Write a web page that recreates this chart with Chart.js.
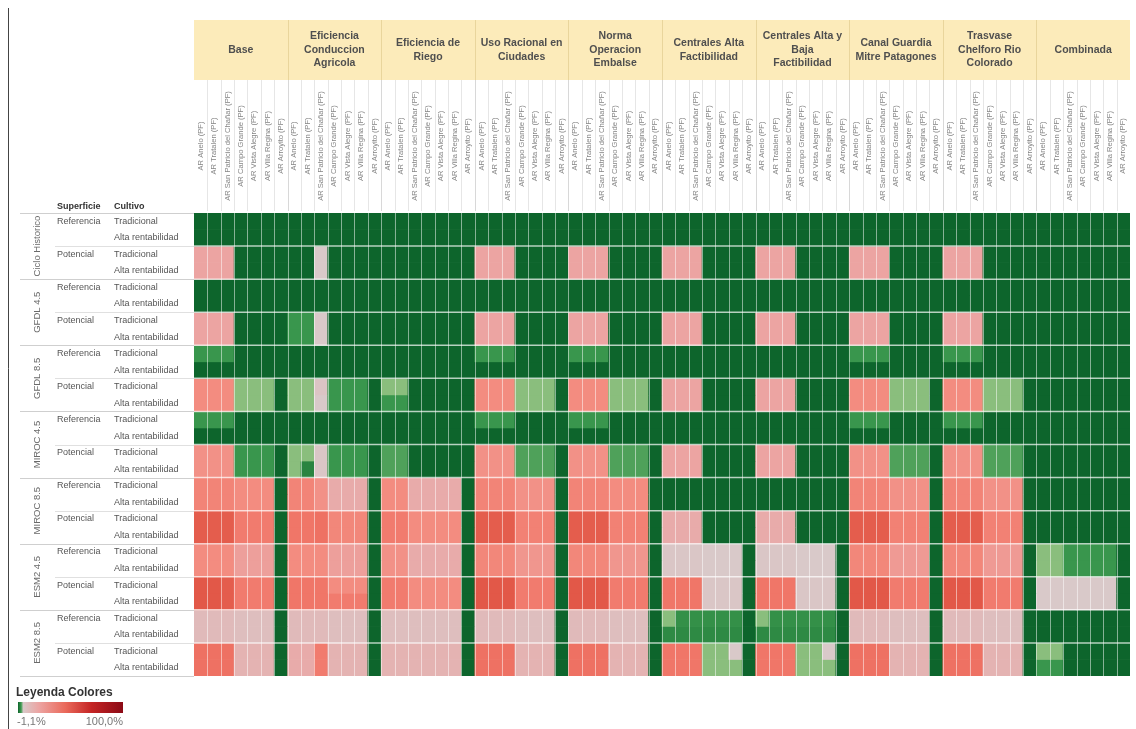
<!DOCTYPE html>
<html>
<head>
<meta charset="utf-8">
<title>Leyenda Colores</title>
<script src="https://cdn.jsdelivr.net/npm/chart.js@4.4.0/dist/chart.umd.min.js"></script>
<style>
  html, body { margin: 0; padding: 0; background: #fff; }
  canvas { display: block; }
</style>
</head>
<body>
<canvas id="heat" width="1136" height="729"></canvas>
<script>
// Column groups (scenario) and sites
const scenarios = [
  ["Base"],
  ["Eficiencia", "Conduccion", "Agricola"],
  ["Eficiencia de", "Riego"],
  ["Uso Racional en", "Ciudades"],
  ["Norma", "Operacion", "Embalse"],
  ["Centrales Alta", "Factibilidad"],
  ["Centrales Alta y", "Baja", "Factibilidad"],
  ["Canal Guardia", "Mitre Patagones"],
  ["Trasvase", "Chelforo Rio", "Colorado"],
  ["Combinada"]
];
const sites = [
  "AR Anelo (PF)", "AR Tratalen (PF)", "AR San Patricio del Chañar (PF)",
  "AR Campo Grande (PF)", "AR Vista Alegre (PF)", "AR Villa Regina (PF)", "AR Arroyito (PF)"
];

// Row groups
const climates = ["Ciclo Historico", "GFDL 4.5", "GFDL 8.5", "MIROC 4.5", "MIROC 8.5", "ESM2 4.5", "ESM2 8.5"];
const superficies = ["Referencia", "Potencial"];
const cultivos = ["Tradicional", "Alta rentabilidad"];

// Values (%), rows: Referencia/Tradicional, Referencia/Alta, Potencial/Tradicional, Potencial/Alta
const cicloHistorico = [
  [-1.1,-1.1,-1.1,-1.1,-1.1,-1.1,-1.1, -1.1,-1.1,-1.1,-1.1,-1.1,-1.1,-1.1, -1.1,-1.1,-1.1,-1.1,-1.1,-1.1,-1.1, -1.1,-1.1,-1.1,-1.1,-1.1,-1.1,-1.1, -1.1,-1.1,-1.1,-1.1,-1.1,-1.1,-1.1, -1.1,-1.1,-1.1,-1.1,-1.1,-1.1,-1.1, -1.1,-1.1,-1.1,-1.1,-1.1,-1.1,-1.1, -1.1,-1.1,-1.1,-1.1,-1.1,-1.1,-1.1, -1.1,-1.1,-1.1,-1.1,-1.1,-1.1,-1.1, -1.1,-1.1,-1.1,-1.1,-1.1,-1.1,-1.1],
  [-1.1,-1.1,-1.1,-1.1,-1.1,-1.1,-1.1, -1.1,-1.1,-1.1,-1.1,-1.1,-1.1,-1.1, -1.1,-1.1,-1.1,-1.1,-1.1,-1.1,-1.1, -1.1,-1.1,-1.1,-1.1,-1.1,-1.1,-1.1, -1.1,-1.1,-1.1,-1.1,-1.1,-1.1,-1.1, -1.1,-1.1,-1.1,-1.1,-1.1,-1.1,-1.1, -1.1,-1.1,-1.1,-1.1,-1.1,-1.1,-1.1, -1.1,-1.1,-1.1,-1.1,-1.1,-1.1,-1.1, -1.1,-1.1,-1.1,-1.1,-1.1,-1.1,-1.1, -1.1,-1.1,-1.1,-1.1,-1.1,-1.1,-1.1],
  [12,12,12,-1.1,-1.1,-1.1,-1.1, -1.1,-1.1,1,-1.1,-1.1,-1.1,-1.1, -1.1,-1.1,-1.1,-1.1,-1.1,-1.1,-1.1, 12,12,12,-1.1,-1.1,-1.1,-1.1, 12,12,12,-1.1,-1.1,-1.1,-1.1, 12,12,12,-1.1,-1.1,-1.1,-1.1, 12,12,12,-1.1,-1.1,-1.1,-1.1, 12,12,12,-1.1,-1.1,-1.1,-1.1, 12,12,12,-1.1,-1.1,-1.1,-1.1, -1.1,-1.1,-1.1,-1.1,-1.1,-1.1,-1.1],
  [12,12,12,-1.1,-1.1,-1.1,-1.1, -1.1,-1.1,1,-1.1,-1.1,-1.1,-1.1, -1.1,-1.1,-1.1,-1.1,-1.1,-1.1,-1.1, 12,12,12,-1.1,-1.1,-1.1,-1.1, 12,12,12,-1.1,-1.1,-1.1,-1.1, 12,12,12,-1.1,-1.1,-1.1,-1.1, 12,12,12,-1.1,-1.1,-1.1,-1.1, 12,12,12,-1.1,-1.1,-1.1,-1.1, 12,12,12,-1.1,-1.1,-1.1,-1.1, -1.1,-1.1,-1.1,-1.1,-1.1,-1.1,-1.1]
];
const gfdl45 = [
  [-1.1,-1.1,-1.1,-1.1,-1.1,-1.1,-1.1, -1.1,-1.1,-1.1,-1.1,-1.1,-1.1,-1.1, -1.1,-1.1,-1.1,-1.1,-1.1,-1.1,-1.1, -1.1,-1.1,-1.1,-1.1,-1.1,-1.1,-1.1, -1.1,-1.1,-1.1,-1.1,-1.1,-1.1,-1.1, -1.1,-1.1,-1.1,-1.1,-1.1,-1.1,-1.1, -1.1,-1.1,-1.1,-1.1,-1.1,-1.1,-1.1, -1.1,-1.1,-1.1,-1.1,-1.1,-1.1,-1.1, -1.1,-1.1,-1.1,-1.1,-1.1,-1.1,-1.1, -1.1,-1.1,-1.1,-1.1,-1.1,-1.1,-1.1],
  [-1.1,-1.1,-1.1,-1.1,-1.1,-1.1,-1.1, -1.1,-1.1,-1.1,-1.1,-1.1,-1.1,-1.1, -1.1,-1.1,-1.1,-1.1,-1.1,-1.1,-1.1, -1.1,-1.1,-1.1,-1.1,-1.1,-1.1,-1.1, -1.1,-1.1,-1.1,-1.1,-1.1,-1.1,-1.1, -1.1,-1.1,-1.1,-1.1,-1.1,-1.1,-1.1, -1.1,-1.1,-1.1,-1.1,-1.1,-1.1,-1.1, -1.1,-1.1,-1.1,-1.1,-1.1,-1.1,-1.1, -1.1,-1.1,-1.1,-1.1,-1.1,-1.1,-1.1, -1.1,-1.1,-1.1,-1.1,-1.1,-1.1,-1.1],
  [12,12,12,-1.1,-1.1,-1.1,-1.1, -0.7,-0.7,1,-1.1,-1.1,-1.1,-1.1, -1.1,-1.1,-1.1,-1.1,-1.1,-1.1,-1.1, 12,12,12,-1.1,-1.1,-1.1,-1.1, 12,12,12,-1.1,-1.1,-1.1,-1.1, 12,12,12,-1.1,-1.1,-1.1,-1.1, 12,12,12,-1.1,-1.1,-1.1,-1.1, 12,12,12,-1.1,-1.1,-1.1,-1.1, 12,12,12,-1.1,-1.1,-1.1,-1.1, -1.1,-1.1,-1.1,-1.1,-1.1,-1.1,-1.1],
  [12,12,12,-1.1,-1.1,-1.1,-1.1, -0.7,-0.7,1,-1.1,-1.1,-1.1,-1.1, -1.1,-1.1,-1.1,-1.1,-1.1,-1.1,-1.1, 12,12,12,-1.1,-1.1,-1.1,-1.1, 12,12,12,-1.1,-1.1,-1.1,-1.1, 12,12,12,-1.1,-1.1,-1.1,-1.1, 12,12,12,-1.1,-1.1,-1.1,-1.1, 12,12,12,-1.1,-1.1,-1.1,-1.1, 12,12,12,-1.1,-1.1,-1.1,-1.1, -1.1,-1.1,-1.1,-1.1,-1.1,-1.1,-1.1]
];
const gfdl85 = [
  [-0.7,-0.7,-0.7,-1.1,-1.1,-1.1,-1.1, -1.1,-1.1,-1.1,-1.1,-1.1,-1.1,-1.1, -1.1,-1.1,-1.1,-1.1,-1.1,-1.1,-1.1, -0.7,-0.7,-0.7,-1.1,-1.1,-1.1,-1.1, -0.7,-0.7,-0.7,-1.1,-1.1,-1.1,-1.1, -1.1,-1.1,-1.1,-1.1,-1.1,-1.1,-1.1, -1.1,-1.1,-1.1,-1.1,-1.1,-1.1,-1.1, -0.7,-0.7,-0.7,-1.1,-1.1,-1.1,-1.1, -0.7,-0.7,-0.7,-1.1,-1.1,-1.1,-1.1, -1.1,-1.1,-1.1,-1.1,-1.1,-1.1,-1.1],
  [-1.1,-1.1,-1.1,-1.1,-1.1,-1.1,-1.1, -1.1,-1.1,-1.1,-1.1,-1.1,-1.1,-1.1, -1.1,-1.1,-1.1,-1.1,-1.1,-1.1,-1.1, -1.1,-1.1,-1.1,-1.1,-1.1,-1.1,-1.1, -1.1,-1.1,-1.1,-1.1,-1.1,-1.1,-1.1, -1.1,-1.1,-1.1,-1.1,-1.1,-1.1,-1.1, -1.1,-1.1,-1.1,-1.1,-1.1,-1.1,-1.1, -1.1,-1.1,-1.1,-1.1,-1.1,-1.1,-1.1, -1.1,-1.1,-1.1,-1.1,-1.1,-1.1,-1.1, -1.1,-1.1,-1.1,-1.1,-1.1,-1.1,-1.1],
  [22,22,22,-0.35,-0.35,-0.35,-1.1, -0.35,-0.35,3,-0.7,-0.7,-0.7,-1.1, -0.35,-0.35,-1.1,-1.1,-1.1,-1.1,-1.1, 22,22,22,-0.35,-0.35,-0.35,-1.1, 22,22,22,-0.35,-0.35,-0.35,-1.1, 12,12,12,-1.1,-1.1,-1.1,-1.1, 12,12,12,-1.1,-1.1,-1.1,-1.1, 22,22,22,-0.35,-0.35,-0.35,-1.1, 22,22,22,-0.35,-0.35,-0.35,-1.1, -1.1,-1.1,-1.1,-1.1,-1.1,-1.1,-1.1],
  [22,22,22,-0.35,-0.35,-0.35,-1.1, -0.35,-0.35,1,-0.7,-0.7,-0.7,-1.1, -0.7,-0.7,-1.1,-1.1,-1.1,-1.1,-1.1, 22,22,22,-0.35,-0.35,-0.35,-1.1, 22,22,22,-0.35,-0.35,-0.35,-1.1, 12,12,12,-1.1,-1.1,-1.1,-1.1, 12,12,12,-1.1,-1.1,-1.1,-1.1, 22,22,22,-0.35,-0.35,-0.35,-1.1, 22,22,22,-0.35,-0.35,-0.35,-1.1, -1.1,-1.1,-1.1,-1.1,-1.1,-1.1,-1.1]
];
const miroc45 = [
  [-0.7,-0.7,-0.7,-1.1,-1.1,-1.1,-1.1, -1.1,-1.1,-1.1,-1.1,-1.1,-1.1,-1.1, -1.1,-1.1,-1.1,-1.1,-1.1,-1.1,-1.1, -0.7,-0.7,-0.7,-1.1,-1.1,-1.1,-1.1, -0.7,-0.7,-0.7,-1.1,-1.1,-1.1,-1.1, -1.1,-1.1,-1.1,-1.1,-1.1,-1.1,-1.1, -1.1,-1.1,-1.1,-1.1,-1.1,-1.1,-1.1, -0.7,-0.7,-0.7,-1.1,-1.1,-1.1,-1.1, -0.7,-0.7,-0.7,-1.1,-1.1,-1.1,-1.1, -1.1,-1.1,-1.1,-1.1,-1.1,-1.1,-1.1],
  [-1.1,-1.1,-1.1,-1.1,-1.1,-1.1,-1.1, -1.1,-1.1,-1.1,-1.1,-1.1,-1.1,-1.1, -1.1,-1.1,-1.1,-1.1,-1.1,-1.1,-1.1, -1.1,-1.1,-1.1,-1.1,-1.1,-1.1,-1.1, -1.1,-1.1,-1.1,-1.1,-1.1,-1.1,-1.1, -1.1,-1.1,-1.1,-1.1,-1.1,-1.1,-1.1, -1.1,-1.1,-1.1,-1.1,-1.1,-1.1,-1.1, -1.1,-1.1,-1.1,-1.1,-1.1,-1.1,-1.1, -1.1,-1.1,-1.1,-1.1,-1.1,-1.1,-1.1, -1.1,-1.1,-1.1,-1.1,-1.1,-1.1,-1.1],
  [20,20,20,-0.7,-0.7,-0.7,-1.1, -0.35,-0.35,2,-0.7,-0.7,-0.7,-1.1, -0.6,-0.6,-1.1,-1.1,-1.1,-1.1,-1.1, 20,20,20,-0.6,-0.6,-0.6,-1.1, 20,20,20,-0.6,-0.6,-0.6,-1.1, 12,12,12,-1.1,-1.1,-1.1,-1.1, 12,12,12,-1.1,-1.1,-1.1,-1.1, 20,20,20,-0.6,-0.6,-0.6,-1.1, 20,20,20,-0.6,-0.6,-0.6,-1.1, -1.1,-1.1,-1.1,-1.1,-1.1,-1.1,-1.1],
  [20,20,20,-0.7,-0.7,-0.7,-1.1, -0.35,-0.85,2,-0.7,-0.7,-0.7,-1.1, -0.6,-0.6,-1.1,-1.1,-1.1,-1.1,-1.1, 20,20,20,-0.6,-0.6,-0.6,-1.1, 20,20,20,-0.6,-0.6,-0.6,-1.1, 12,12,12,-1.1,-1.1,-1.1,-1.1, 12,12,12,-1.1,-1.1,-1.1,-1.1, 20,20,20,-0.6,-0.6,-0.6,-1.1, 20,20,20,-0.6,-0.6,-0.6,-1.1, -1.1,-1.1,-1.1,-1.1,-1.1,-1.1,-1.1]
];
const miroc85 = [
  [25,25,25,22,22,22,-1.1, 25,25,20,10,10,10,-1.1, 22,22,10,10,10,10,-1.1, 25,25,25,20,20,20,-1.1, 25,25,25,22,22,22,-1.1, -1.1,-1.1,-1.1,-1.1,-1.1,-1.1,-1.1, -1.1,-1.1,-1.1,-1.1,-1.1,-1.1,-1.1, 25,25,25,20,20,20,-1.1, 25,25,25,20,20,20,-1.1, -1.1,-1.1,-1.1,-1.1,-1.1,-1.1,-1.1],
  [25,25,25,22,22,22,-1.1, 25,25,20,10,10,10,-1.1, 22,22,10,10,10,10,-1.1, 25,25,25,20,20,20,-1.1, 25,25,25,22,22,22,-1.1, -1.1,-1.1,-1.1,-1.1,-1.1,-1.1,-1.1, -1.1,-1.1,-1.1,-1.1,-1.1,-1.1,-1.1, 25,25,25,20,20,20,-1.1, 25,25,25,20,20,20,-1.1, -1.1,-1.1,-1.1,-1.1,-1.1,-1.1,-1.1],
  [40,40,40,28,28,28,-1.1, 30,30,32,24,24,24,-1.1, 28,28,22,22,22,22,-1.1, 40,40,40,26,26,26,-1.1, 40,40,40,26,26,26,-1.1, 10,10,10,-1.1,-1.1,-1.1,-1.1, 10,10,10,-1.1,-1.1,-1.1,-1.1, 40,40,40,26,26,26,-1.1, 40,40,40,26,26,26,-1.1, -1.1,-1.1,-1.1,-1.1,-1.1,-1.1,-1.1],
  [40,40,40,28,28,28,-1.1, 30,30,32,24,24,24,-1.1, 28,28,22,22,22,22,-1.1, 40,40,40,26,26,26,-1.1, 40,40,40,26,26,26,-1.1, 10,10,10,-1.1,-1.1,-1.1,-1.1, 10,10,10,-1.1,-1.1,-1.1,-1.1, 40,40,40,26,26,26,-1.1, 40,40,40,26,26,26,-1.1, -1.1,-1.1,-1.1,-1.1,-1.1,-1.1,-1.1]
];
const esm245 = [
  [22,22,22,14,14,14,-1.1, 22,22,22,14,14,14,-1.1, 20,20,10,10,10,10,-1.1, 24,24,24,18,18,18,-1.1, 24,24,24,18,18,18,-1.1, 2,2,2,1,1,1,-1.1, 2,2,2,1,1,1,-1.1, 24,24,24,16,16,16,-1.1, 24,24,24,16,16,16,-1.1, -0.35,-0.35,-0.7,-0.7,-0.7,-0.7,-1.1],
  [22,22,22,14,14,14,-1.1, 22,22,22,14,14,14,-1.1, 20,20,10,10,10,10,-1.1, 24,24,24,18,18,18,-1.1, 24,24,24,18,18,18,-1.1, 2,2,2,1,1,1,-1.1, 2,2,2,1,1,1,-1.1, 24,24,24,16,16,16,-1.1, 24,24,24,16,16,16,-1.1, -0.35,-0.35,-0.7,-0.7,-0.7,-0.7,-1.1],
  [42,42,40,28,28,28,-1.1, 30,30,30,22,22,22,-1.1, 28,28,22,22,22,22,-1.1, 42,42,42,28,28,28,-1.1, 42,42,42,28,28,28,-1.1, 30,30,30,2,2,2,-1.1, 30,30,30,2,2,2,-1.1, 42,42,42,28,28,28,-1.1, 42,42,42,28,28,28,-1.1, 1,1,1,1,1,1,-1.1],
  [42,42,40,28,28,28,-1.1, 30,30,30,28,28,28,-1.1, 28,28,22,22,22,22,-1.1, 42,42,42,28,28,28,-1.1, 42,42,42,28,28,28,-1.1, 30,30,30,2,2,2,-1.1, 30,30,30,2,2,2,-1.1, 42,42,42,28,28,28,-1.1, 42,42,42,28,28,28,-1.1, 1,1,1,1,1,1,-1.1]
];
const esm285 = [
  [6,6,6,5,5,5,-1.1, 6,6,6,5,5,5,-1.1, 5,5,5,5,5,5,-1.1, 6,6,6,5,5,5,-1.1, 6,6,6,5,5,5,-1.1, -0.35,-0.75,-0.75,-0.75,-0.75,-0.75,-1.1, -0.35,-0.75,-0.75,-0.75,-0.75,-0.75,-1.1, 6,6,6,5,5,5,-1.1, 6,6,6,5,5,5,-1.1, -1.1,-1.1,-1.1,-1.1,-1.1,-1.1,-1.1],
  [6,6,6,5,5,5,-1.1, 6,6,6,5,5,5,-1.1, 5,5,5,5,5,5,-1.1, 6,6,6,5,5,5,-1.1, 6,6,6,5,5,5,-1.1, -0.8,-0.8,-0.8,-0.8,-0.8,-0.8,-1.1, -0.8,-0.8,-0.8,-0.8,-0.8,-0.8,-1.1, 6,6,6,5,5,5,-1.1, 6,6,6,5,5,5,-1.1, -1.1,-1.1,-1.1,-1.1,-1.1,-1.1,-1.1],
  [32,32,32,8,8,8,-1.1, 10,10,28,8,8,8,-1.1, 8,8,8,8,8,8,-1.1, 32,32,32,8,8,8,-1.1, 32,32,32,8,8,8,-1.1, 30,30,30,-0.35,-0.35,1,-1.1, 30,30,30,-0.35,-0.35,1,-1.1, 32,32,32,8,8,8,-1.1, 32,32,32,8,8,8,-1.1, -0.35,-0.35,-1.1,-1.1,-1.1,-1.1,-1.1],
  [32,32,32,8,8,8,-1.1, 10,10,28,8,8,8,-1.1, 8,8,8,8,8,8,-1.1, 32,32,32,8,8,8,-1.1, 32,32,32,8,8,8,-1.1, 30,30,30,-0.35,-0.35,-0.35,-1.1, 30,30,30,-0.35,-0.35,-0.35,-1.1, 32,32,32,8,8,8,-1.1, 32,32,32,8,8,8,-1.1, -0.7,-0.7,-1.1,-1.1,-1.1,-1.1,-1.1]
];

const legendMin = -1.1;
const legendMax = 100;

const allRows = [cicloHistorico, gfdl45, gfdl85, miroc45, miroc85, esm245, esm285].flat();
const columnLabels = scenarios.flatMap(() => sites);

// Colour scale: green below zero, grey-pink -> red above
const negStops = [[0, [216, 204, 204]], [0.3, [143, 192, 128]], [0.62, [59, 152, 78]], [1, [13, 101, 44]]];
const posStops = [[0, [216, 204, 204]], [0.05, [222, 190, 190]], [0.12, [236, 164, 162]], [0.22, [243, 140, 128]],
                  [0.3, [240, 118, 104]], [0.42, [226, 88, 72]], [0.7, [196, 36, 36]], [1, [139, 10, 22]]];

function interp(stops, t) {
  t = Math.max(0, Math.min(1, t));
  for (let i = 1; i < stops.length; i++) {
    if (t <= stops[i][0]) {
      const [t0, c0] = stops[i - 1];
      const [t1, c1] = stops[i];
      const f = (t - t0) / (t1 - t0);
      const c = c0.map((v, k) => Math.round(v + (c1[k] - v) * f));
      return `rgb(${c[0]},${c[1]},${c[2]})`;
    }
  }
  const c = stops[stops.length - 1][1];
  return `rgb(${c[0]},${c[1]},${c[2]})`;
}

function cellColor(v) {
  if (v < 0) return interp(negStops, v / legendMin);
  return interp(posStops, v / legendMax);
}

const datasets = allRows.map((row, r) => ({
  label: `${climates[Math.floor(r / 4)]} - ${superficies[Math.floor(r / 2) % 2]} - ${cultivos[r % 2]}`,
  data: row.map(() => 1),
  values: row,
  backgroundColor: row.map(cellColor),
  borderWidth: 0,
  barPercentage: 1,
  categoryPercentage: 1,
  stack: "grid"
}));

const FONT = "'Liberation Sans', Arial, sans-serif";

const tablePlugin = {
  id: "tableDecor",
  afterDatasetsDraw(chart) {
    const { ctx, chartArea: area, scales: { x, y } } = chart;
    const cw = x.getPixelForValue(1) - x.getPixelForValue(0);
    ctx.save();
    // thin lines between columns
    ctx.strokeStyle = "rgba(255,255,255,0.5)";
    ctx.lineWidth = 1;
    for (let i = 1; i < columnLabels.length; i++) {
      const px = Math.round(x.getPixelForValue(i) - cw / 2) + 0.5;
      ctx.beginPath();
      ctx.moveTo(px, area.top);
      ctx.lineTo(px, area.bottom);
      ctx.stroke();
    }
    // lines between superficie blocks
    ctx.strokeStyle = "rgba(255,255,255,0.7)";
    ctx.lineWidth = 1.5;
    for (let r = 2; r < allRows.length; r += 2) {
      const py = y.getPixelForValue(r);
      ctx.beginPath();
      ctx.moveTo(area.left, py);
      ctx.lineTo(area.right, py);
      ctx.stroke();
    }
    ctx.restore();
  },
  afterDraw(chart) {
    const { ctx, chartArea: area, scales: { x, y } } = chart;
    const cw = x.getPixelForValue(1) - x.getPixelForValue(0);
    ctx.save();

    // frame line at left
    ctx.strokeStyle = "#444";
    ctx.lineWidth = 1;
    ctx.beginPath();
    ctx.moveTo(8.5, 8);
    ctx.lineTo(8.5, 729);
    ctx.stroke();

    // header band
    const bandTop = 20, bandBottom = 80, labelBottom = area.top - 2;
    ctx.fillStyle = "#fcebba";
    ctx.fillRect(area.left, bandTop, area.right - area.left, bandBottom - bandTop);

    // column label grid
    ctx.strokeStyle = "#e6e6e6";
    ctx.lineWidth = 1;
    for (let i = 1; i < columnLabels.length; i++) {
      const px = Math.round(x.getPixelForValue(i) - cw / 2) + 0.5;
      ctx.beginPath();
      ctx.moveTo(px, bandBottom);
      ctx.lineTo(px, labelBottom);
      ctx.stroke();
    }

    // scenario separators and names
    ctx.textAlign = "center";
    ctx.textBaseline = "middle";
    scenarios.forEach((lines, g) => {
      const left = x.getPixelForValue(g * 7) - cw / 2;
      const right = x.getPixelForValue(g * 7 + 6) + cw / 2;
      if (g > 0) {
        ctx.strokeStyle = "#e9d59c";
        ctx.beginPath();
        ctx.moveTo(Math.round(left) + 0.5, bandTop);
        ctx.lineTo(Math.round(left) + 0.5, bandBottom);
        ctx.stroke();
        ctx.strokeStyle = "#d8d8d8";
        ctx.beginPath();
        ctx.moveTo(Math.round(left) + 0.5, bandBottom);
        ctx.lineTo(Math.round(left) + 0.5, labelBottom);
        ctx.stroke();
      }
      ctx.fillStyle = "#4f4f4f";
      ctx.font = `bold 10.5px ${FONT}`;
      const lh = 13.5;
      const cy = (bandTop + bandBottom) / 2;
      lines.forEach((t, k) => {
        ctx.fillText(t, (left + right) / 2, cy + (k - (lines.length - 1) / 2) * lh);
      });
    });

    // rotated site labels
    ctx.fillStyle = "#858585";
    ctx.font = `7.6px ${FONT}`;
    columnLabels.forEach((lab, i) => {
      ctx.save();
      ctx.translate(x.getPixelForValue(i), 146);
      ctx.rotate(-Math.PI / 2);
      ctx.fillText(lab, 0, 0);
      ctx.restore();
    });

    // row header titles
    ctx.textAlign = "left";
    ctx.fillStyle = "#333";
    ctx.font = `bold 9px ${FONT}`;
    ctx.fillText("Superficie", 57, 207);
    ctx.fillText("Cultivo", 114, 207);

    // row separators on the left
    ctx.lineWidth = 1;
    for (let r = 0; r <= allRows.length; r += 2) {
      const py = Math.round(y.getPixelForValue(r)) + 0.5;
      ctx.strokeStyle = r % 4 === 0 ? "#cfcfcf" : "#e0e0e0";
      ctx.beginPath();
      ctx.moveTo(r % 4 === 0 ? 20 : 55, py);
      ctx.lineTo(area.left, py);
      ctx.stroke();
    }

    // row labels
    ctx.font = `9px ${FONT}`;
    ctx.fillStyle = "#555";
    allRows.forEach((row, r) => {
      const cy = y.getPixelForValue(r + 0.5);
      if (r % 2 === 0) ctx.fillText(superficies[Math.floor(r / 2) % 2], 57, cy);
      ctx.fillText(cultivos[r % 2], 114, cy);
    });
    ctx.fillStyle = "#6a6a6a";
    ctx.font = `9.5px ${FONT}`;
    ctx.textAlign = "center";
    climates.forEach((name, c) => {
      ctx.save();
      ctx.translate(37, y.getPixelForValue(c * 4 + 2));
      ctx.rotate(-Math.PI / 2);
      ctx.fillText(name, 0, 0);
      ctx.restore();
    });

    // colour legend
    ctx.textAlign = "left";
    ctx.textBaseline = "alphabetic";
    ctx.fillStyle = "#333";
    ctx.font = `bold 12px ${FONT}`;
    ctx.fillText("Leyenda Colores", 16, 696);
    const lx0 = 18, lx1 = 123, ly = 702, lh = 11;
    const grad = ctx.createLinearGradient(lx0, 0, lx1, 0);
    grad.addColorStop(0, cellColor(legendMin));
    grad.addColorStop(0.03, cellColor(legendMin * 0.6));
    grad.addColorStop(0.05, cellColor(1));
    grad.addColorStop(0.2, cellColor(12));
    grad.addColorStop(0.45, cellColor(35));
    grad.addColorStop(0.7, cellColor(70));
    grad.addColorStop(1, cellColor(legendMax));
    ctx.fillStyle = grad;
    ctx.fillRect(lx0, ly, lx1 - lx0, lh);
    ctx.fillStyle = "#777";
    ctx.font = `11px ${FONT}`;
    ctx.fillText("-1,1%", 17, 725);
    ctx.textAlign = "right";
    ctx.fillText("100,0%", 123, 725);

    ctx.restore();
  }
};

new Chart(document.getElementById("heat"), {
  type: "bar",
  data: { labels: columnLabels, datasets },
  options: {
    responsive: false,
    animation: false,
    devicePixelRatio: 1,
    layout: { padding: { left: 194, right: 6, top: 213, bottom: 53 } },
    scales: {
      x: { stacked: true, display: false, grid: { display: false } },
      y: { stacked: true, display: false, min: 0, max: allRows.length, reverse: true, grid: { display: false } }
    },
    plugins: {
      legend: { display: false },
      tooltip: {
        callbacks: {
          label: (c) => `${c.dataset.label}: ${c.dataset.values[c.dataIndex]}%`
        }
      }
    }
  },
  plugins: [tablePlugin]
});
</script>
</body>
</html>
